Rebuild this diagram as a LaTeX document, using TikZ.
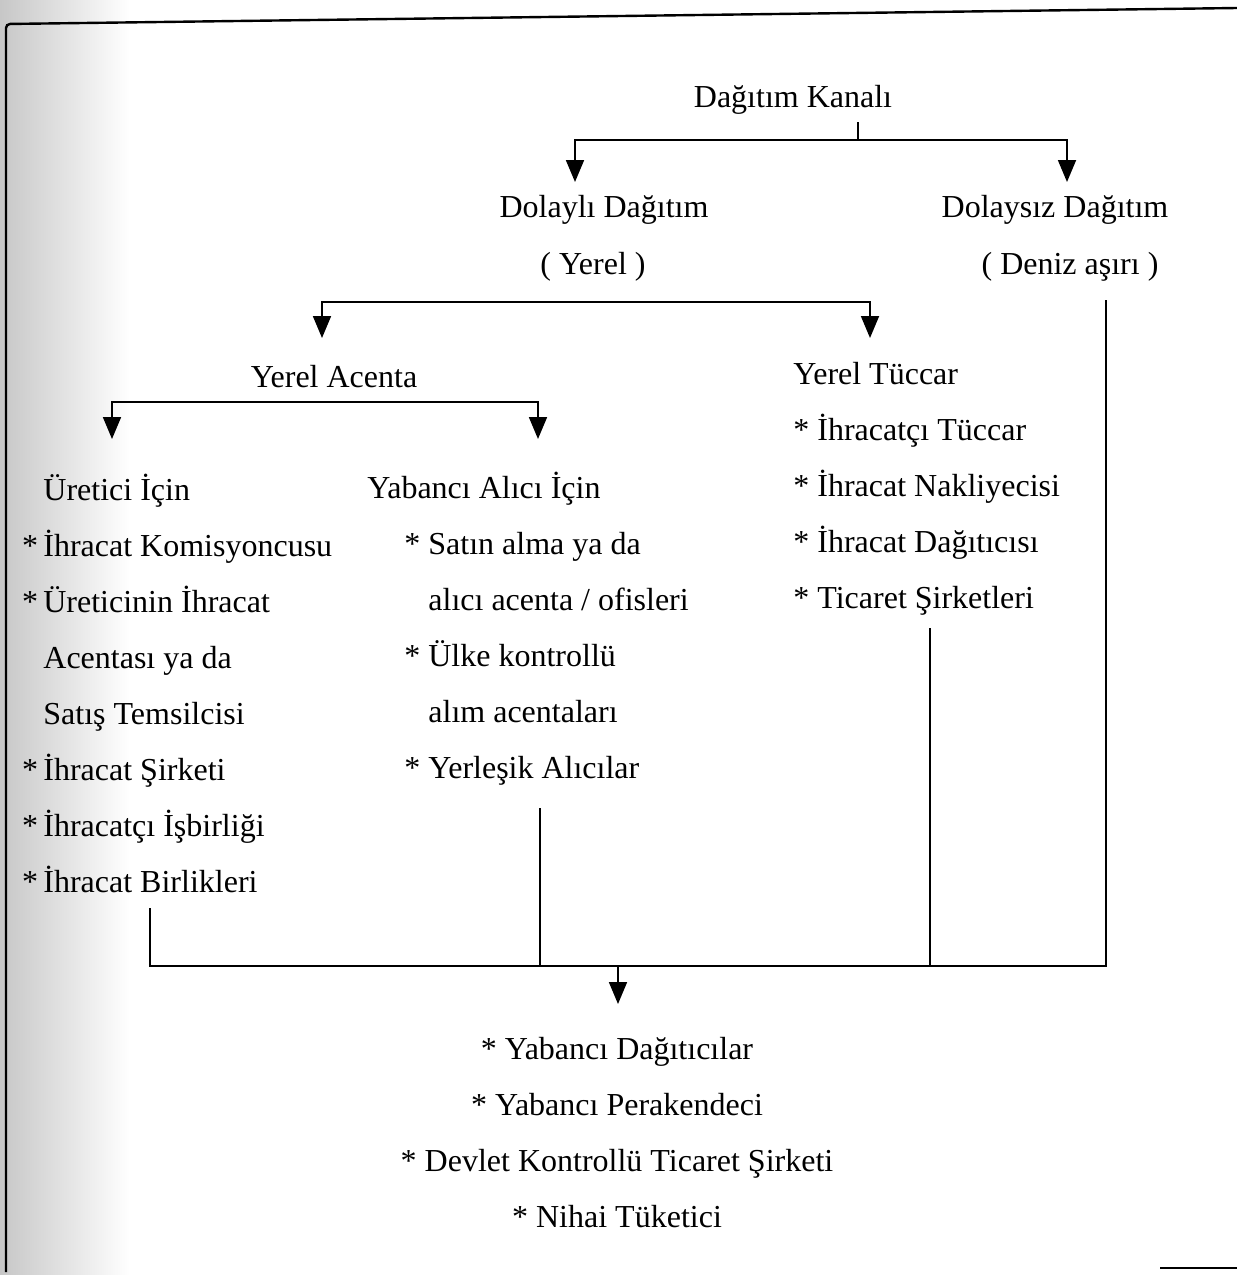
\documentclass[tikz,border=0pt]{standalone}
\usepackage{fontspec}
\setmainfont{Liberation Serif}
\usetikzlibrary{arrows.meta}
\newcommand{\chartfont}{\fontsize{16}{19}\selectfont}
\tikzstyle{entry}=[inner sep=0pt,anchor=base west,font=\chartfont]
\tikzstyle{centry}=[entry,anchor=base]
\tikzstyle{link}=[line width=0.9pt]
\tikzstyle{drop}=[link,-{Triangle[width=9pt,length=11pt]}]
\tikzstyle{fork}=[link,{Triangle[width=9pt,length=11pt]}-{Triangle[width=9pt,length=11pt]}]
\newcommand{\drawcolumn}[5][entry]{ % style, name, x, first baseline, lines
  \foreach \txt [count=\i] in {#5} {
  \pgfmathsetmacro{\y}{#4+56*(\i-1)}
  \node[#1] (#2\i) at (#3,\y) {\txt};
}
}
\begin{document}
\begin{tikzpicture}[x=0.5pt,y=-0.5pt]
	\useasboundingbox (0,0) rectangle (1237,1275);
	% scanned page edge
	\shade[left color=black!22,right color=white] (0,0) rectangle (130,1275);
	\draw[line width=1.2pt,rounded corners=2pt] (6,1272) -- (6,24) -- (1237,8);
	\draw[line width=0.8pt] (1160,1268) -- (1237,1268);
	% first split
	\node[centry] (kanal) at (793,107) {Dağıtım Kanalı};
	\node[centry] (dolayli) at (604,217) {Dolaylı Dağıtım};
	\node[centry] (yerel) at (593,274) {( Yerel )};
	\node[centry] (dolaysiz) at (1055,217) {Dolaysız Dağıtım};
	\node[centry] (deniz) at (1070,274) {( Deniz aşırı )};
	\coordinate (kanalJ) at (858,140);
	\coordinate (dolayliT) at (575,182);
	\coordinate (dolaysizT) at (1067,182);
	\draw[link,shorten <=4pt] (kanal.south -| kanalJ) -- (kanalJ);
	\draw[drop] (kanalJ) -| (dolayliT);
	\draw[drop] (kanalJ) -| (dolaysizT);
	% indirect split
	\coordinate (yerelL) at (322,302);
	\coordinate (yerelR) at (870,302);
	\coordinate (acentaT) at (322,338);
	\coordinate (tuccarT) at (870,338);
	\draw[fork] (acentaT) -- (yerelL) -- (yerelR) -- (tuccarT);
	\node[centry] (acenta) at (334,387) {Yerel Acenta};
	\drawcolumn{tuccar}{793}{384}{Yerel Tüccar,* İhracatçı Tüccar,* İhracat Nakliyecisi,* İhracat Dağıtıcısı,* Ticaret Şirketleri}
	% agent split
	\coordinate (acentaL) at (112,402);
	\coordinate (acentaR) at (538,402);
	\coordinate (ureticiT) at (112,439);
	\coordinate (aliciT) at (538,439);
	\draw[fork] (ureticiT) -- (acentaL) -- (acentaR) -- (aliciT);
	\drawcolumn{uretici}{43}{500}{Üretici İçin,\llap{*\,}İhracat Komisyoncusu,\llap{*\,}Üreticinin İhracat,Acentası ya da,Satış Temsilcisi,\llap{*\,}İhracat Şirketi,\llap{*\,}İhracatçı İşbirliği,\llap{*\,}İhracat Birlikleri}
	\node[entry] (alici) at (367,498) {Yabancı Alıcı İçin};
	\drawcolumn{alim}{428}{554}{\llap{*\ }Satın alma ya da,alıcı acenta / ofisleri,\llap{*\ }Ülke kontrollü,alım acentaları,\llap{*\ }Yerleşik Alıcılar}
	% collecting line
	\coordinate (birlikB) at (150,908);
	\coordinate (alimB) at (540,808);
	\coordinate (tuccarB) at (930,628);
	\coordinate (denizB) at (1106,300);
	\coordinate (busL) at (150,966);
	\coordinate (busR) at (1106,966);
	\coordinate (busM) at (618,966);
	\coordinate (hedefT) at (618,1004);
	\draw[link] (birlikB) -- (busL) -- (busR) -- (denizB);
	\draw[link] (alimB) -- (alimB |- busL);
	\draw[link] (tuccarB) -- (tuccarB |- busL);
	\draw[drop] (busM) -- (hedefT);
	\drawcolumn[centry]{hedef}{617}{1059}{* Yabancı Dağıtıcılar,* Yabancı Perakendeci,* Devlet Kontrollü Ticaret Şirketi,* Nihai Tüketici}
\end{tikzpicture}
\end{document}
